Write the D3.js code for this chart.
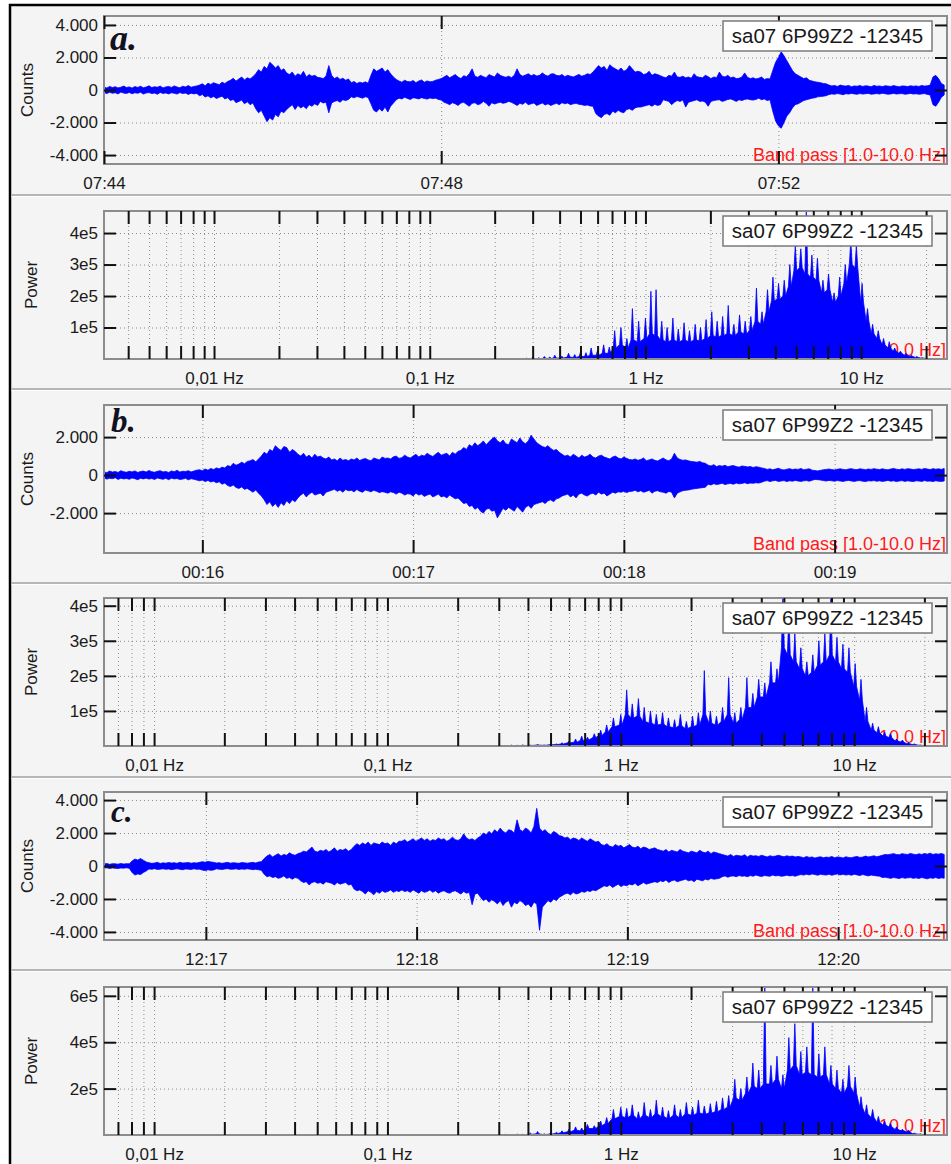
<!DOCTYPE html>
<html>
<head>
<meta charset="utf-8">
<script src="https://cdn.jsdelivr.net/npm/d3@7"></script>
<style>
  html, body { margin: 0; padding: 0; background: #fff; }
  svg { display: block; font-family: "Liberation Sans", Arial, sans-serif; }
</style>
</head>
<body>
<svg id="fig" width="951" height="1164"></svg>
<script>
// ------------------------------------------------------------------
// Data
// ------------------------------------------------------------------
const stationLabel = "sa07 6P99Z2 -12345";
const filterLabel = "Band pass [1.0-10.0 Hz]";
const panelLetters = ["a.", "b.", "c."];

// Seismogram envelopes (counts): upper / lower extreme per time step
const seisAStart = "07:44:00", seisAEnd = "07:54:00", seisAStep = 2;
const seisAUp = [
  180,120,220,150,200,130,170,240,150,190,120,210,160,230,140,180,260,150,200,170,240,130,190,220,160,250,180,140,230,190,270,170,220,250,
  300,380,260,420,340,450,380,330,480,400,520,
  600,720,550,680,800,620,750,680,820,
  1000,1250,1100,1450,1300,1700,1550,1350,1500,1200,1300,1050,
  950,1100,850,1000,900,1150,800,950,850,900,780,
  750,700,850,1500,900,700,800,650,720,600,680,
  450,520,400,480,430,500,420,
  900,1300,1150,1250,1350,1100,1250,1000,800,650,
  550,480,600,520,500,580,450,550,620,480,560,500,530,600,650,700,
  800,900,750,850,950,800,700,880,820,1000,1300,850,780,900,820,760,950,870,800,1050,900,830,780,850,760,900,1300,
  950,850,920,1000,880,950,860,900,1050,920,850,980,1000,900,870,950,820,900,850,800,880,960,850,900,1000,950,1100,
  1300,1500,1350,1450,1200,1550,1400,1300,1200,1350,1150,1250,1500,1300,1100,1150,
  1100,950,1000,1150,900,1000,950,880,
  800,750,900,850,1100,800,780,850,750,800,720,1000,820,780,750,900,820,700,800,760,1100,850,800,900,750,800,700,720,800,1050,780,700,750,680,720,800,650,700,680,
  1200,1700,2000,2350,2100,1800,1500,1200,1000,
  900,800,700,750,600,550,500,480,450,400,380,
  300,250,280,220,300,260,240,280,200,250,230,270,220,260,240,200,280,230,250,210,260,240,220,270,230,200,250,240,210,260,230,250,220,280,240,260,300,
  800,900,700,400,300];
const seisADown = [
  -160,-220,-140,-200,-170,-240,-130,-190,-210,-150,-230,-170,-200,-140,-250,-180,-160,-220,-190,-260,-150,-210,-180,-240,-170,-200,-250,-160,-220,-190,-270,-200,-240,-210,
  -350,-280,-430,-360,-480,-400,-520,-450,-380,-550,-480,
  -650,-580,-780,-700,-620,-850,-720,-900,-800,
  -1150,-1400,-1250,-1600,-1950,-1700,-1850,-1500,-1650,-1300,-1400,-1200,
  -1050,-900,-1200,-950,-1100,-1000,-1150,-900,-1000,-850,-950,
  -700,-800,-750,-1400,-800,-700,-650,-750,-600,-650,-580,
  -420,-480,-400,-450,-500,-420,-460,
  -850,-1250,-1350,-1150,-1300,-1050,-1350,-1000,-800,-600,
  -500,-550,-450,-520,-580,-480,-500,-550,-470,-520,-560,-490,-530,-500,-580,-620,
  -750,-820,-900,-780,-850,-950,-800,-760,-880,-1000,-820,-780,-900,-850,-700,-820,-1000,-780,-860,-800,-750,-820,-780,-700,-760,-850,-950,
  -820,-880,-750,-900,-850,-800,-950,-870,-800,-920,-850,-950,-880,-820,-900,-780,-850,-800,-900,-850,-820,-880,-900,-950,-920,-980,-1000,
  -1450,-1600,-1700,-1500,-1450,-1550,-1300,-1400,-1250,-1350,-1400,-1200,-1150,-1250,-1100,-1050,
  -1050,-1000,-950,-900,-1000,-880,-950,-900,
  -600,-650,-700,-900,-750,-650,-700,-620,-1050,-750,-700,-650,-600,-700,-680,-750,-1000,-700,-650,-620,-600,-700,-650,-580,-550,-620,-700,-600,-650,-580,-550,-600,-620,-580,-500,-600,-550,-650,-600,
  -1300,-1900,-2200,-2350,-2000,-1600,-1400,-1100,-900,
  -850,-750,-650,-600,-550,-500,-480,-420,-400,-380,-350,
  -280,-240,-260,-220,-250,-290,-230,-250,-210,-240,-260,-220,-250,-230,-210,-260,-240,-220,-250,-200,-230,-260,-240,-210,-250,-230,-220,-260,-240,-210,-250,-230,-260,-240,-220,-270,-300,
  -900,-1000,-750,-450,-300];

const seisBStart = "00:15:32", seisBEnd = "00:19:32", seisBStep = 0.8;
const seisBUp = [
  170,130,210,160,190,140,230,180,150,200,170,220,140,190,210,160,240,180,150,200,230,170,190,140,220,180,250,160,200,190,230,170,210,260,
  280,230,320,260,350,290,380,330,
  420,380,500,450,620,520,580,680,600,720,
  750,820,700,850,
  1000,1200,1100,1350,1250,1550,1400,1300,1500,1450,1200,1350,1250,1100,
  1000,1150,950,1050,900,1100,950,1000,900,850,950,
  800,850,750,900,780,820,760,850,800,900,770,830,880,800,760,900,850,800,950,880,900,850,960,1000,880,920,1050,950,900,1000,
  1100,950,1050,1000,1150,1050,980,1100,1200,1050,1100,1150,1000,1200,1100,1250,
  1300,1450,1350,1600,1500,1700,1550,1650,1800,1600,1750,1900,2000,1800,1700,1850,1650,1600,1900,1800,
  1700,1950,1750,1650,1800,2100,1900,1700,1600,1500,1450,1550,1400,1300,1350,1200,
  1100,1000,1050,950,1100,1000,900,1050,950,1000,1100,950,900,1000,1050,950,900,850,950,1000,900,850,950,880,820,
  800,850,780,820,900,760,800,850,780,740,820,900,800,760,850,1150,900,820,780,800,750,720,700,680,720,650,620,
  520,480,550,450,500,470,520,440,480,500,450,420,480,460,430,450,400,440,420,380,
  350,300,330,280,320,360,300,270,310,340,290,320,300,350,280,310,330,260,240,220,250,280,300,320,290,270,310,330,300,280,
  320,340,300,290,330,310,280,320,300,340,310,290,330,300,280,320,350,310,290,330,300,340,320,290,310,330,300,350,320,290,
  340,310,330,300,350];
const seisBDown = [
  -150,-210,-170,-190,-140,-230,-160,-200,-180,-220,-150,-190,-240,-170,-200,-160,-210,-180,-230,-150,-190,-220,-170,-240,-160,-200,-180,-230,-210,-170,-250,-190,-220,-260,
  -300,-260,-340,-280,-360,-320,-400,-350,
  -480,-420,-550,-600,-520,-650,-700,-620,-750,-700,
  -800,-900,-780,-950,
  -1100,-1300,-1550,-1400,-1650,-1500,-1700,-1450,-1600,-1350,-1500,-1300,-1400,-1200,
  -1050,-950,-1150,-1000,-900,-1050,-1000,-950,-1100,-900,-850,
  -800,-750,-850,-780,-900,-760,-820,-800,-880,-760,-850,-900,-790,-830,-880,-800,-850,-920,-870,-900,-950,-880,-920,-1000,-900,-950,-1050,-980,-1000,-1100,
  -950,-1050,-1000,-1120,-1050,-1000,-1150,-1080,-1000,-1150,-1100,-1200,-1050,-1150,-1250,-1200,
  -1350,-1500,-1450,-1650,-1600,-1800,-1700,-1900,-2000,-1800,-1750,-1900,-1850,-2250,-2000,-1750,-1850,-1700,-1800,-1900,
  -1650,-1800,-1950,-1700,-1600,-1750,-1550,-1500,-1450,-1400,-1500,-1350,-1300,-1400,-1250,-1200,
  -1100,-1050,-1000,-1150,-1050,-1200,-1000,-950,-1050,-1100,-1000,-950,-1050,-900,-1000,-950,-1100,-1000,-900,-950,-880,-900,-850,-920,-860,
  -850,-800,-880,-820,-900,-860,-800,-950,-850,-820,-880,-900,-950,-860,-900,-1200,-950,-880,-820,-800,-780,-750,-720,-700,-680,-660,-640,
  -480,-520,-450,-500,-470,-430,-500,-460,-440,-480,-420,-460,-440,-400,-450,-420,-430,-400,-420,-380,
  -320,-290,-340,-300,-280,-330,-310,-290,-340,-300,-320,-280,-310,-330,-300,-290,-320,-270,-230,-240,-260,-290,-310,-280,-300,-320,-290,-310,-330,-300,
  -280,-310,-330,-300,-290,-320,-340,-300,-310,-290,-320,-300,-330,-310,-280,-320,-300,-340,-310,-290,-330,-300,-320,-340,-300,-310,-330,-290,-320,-310,
  -340,-300,-320,-330,-310];

const seisCStart = "12:16:31", seisCEnd = "12:20:31", seisCStep = 0.8;
const seisCUp = [
  120,150,100,140,130,110,150,120,140,130,
  300,420,360,450,350,250,
  200,160,180,220,150,190,170,210,180,200,160,230,180,190,210,170,200,180,220,
  260,230,280,250,220,
  180,200,160,190,220,170,200,180,160,210,190,170,200,220,180,240,260,
  450,600,700,550,650,750,600,700,650,800,700,650,750,
  800,900,850,1000,1150,900,850,950,900,1000,850,950,1100,900,1000,950,1050,900,1000,
  1200,1350,1250,1400,1300,1450,1250,1400,1350,1300,1450,1350,1400,1250,1450,1350,1500,
  1500,1600,1450,1550,1650,1500,1600,1700,1550,1650,1500,1600,1550,1700,1600,1650,1500,1600,1750,1600,1550,1650,1950,1700,1600,1650,1550,1700,
  1800,2000,1900,2100,1950,2200,2050,2300,2100,2000,2200,2150,2000,2800,2200,2100,2300,2200,2000,2400,3500,2300,2100,2200,2000,1900,2100,2000,1850,
  1800,1700,1750,1600,1700,1650,1550,1700,1600,1500,1650,1550,1450,1500,
  1300,1250,1350,1200,1150,1300,1200,1250,1100,1200,1300,1150,1100,1200,1050,1150,1100,1000,1050,1100,1000,
  950,900,1000,850,950,900,850,1000,900,850,800,900,850,800,950,850,800,900,750,850,800,750,
  700,650,600,700,580,650,620,600,680,550,650,600,620,580,650,600,550,620,580,600,650,600,560,620,580,600,550,580,
  550,500,580,520,550,480,530,560,500,540,520,580,500,550,530,480,560,520,500,550,580,520,540,600,550,580,620,560,600,
  650,700,680,720,750,700,680,750,720,700,760,720,680,740,700,760,720,780,700,740,720,760,700];
const seisCDown = [
  -130,-110,-150,-120,-140,-150,-120,-130,-110,-140,
  -400,-550,-480,-520,-400,-300,
  -180,-200,-160,-210,-190,-170,-200,-180,-220,-190,-170,-200,-230,-180,-190,-210,-170,-200,-190,
  -250,-280,-230,-260,-240,
  -170,-190,-210,-180,-160,-200,-190,-170,-210,-180,-200,-170,-190,-220,-200,-230,-260,
  -500,-650,-600,-700,-650,-750,-700,-600,-750,-700,-800,-700,-750,
  -900,-1000,-950,-1150,-1000,-950,-1050,-1000,-1100,-950,-1000,-1050,-1150,-1000,-1100,-1050,-1000,-1150,-1100,
  -1400,-1500,-1450,-1550,-1700,-1500,-1600,-1750,-1550,-1650,-1500,-1600,-1550,-1450,-1600,-1500,-1550,
  -1450,-1550,-1500,-1600,-1450,-1550,-1650,-1500,-1600,-1550,-1450,-1600,-1500,-1650,-1550,-1500,-1600,-1650,-1550,-1500,-1600,-1700,-1550,-1650,-1600,-2350,-1700,-1650,
  -1900,-2100,-2000,-2200,-2050,-2150,-2300,-2100,-2400,-2200,-2100,-2500,-2200,-2300,-2100,-2200,-2400,-2300,-2500,-2200,-2300,-3900,-2500,-2300,-2100,-2200,-2000,-2100,-1900,
  -1800,-1700,-1650,-1750,-1600,-1700,-1650,-1550,-1600,-1500,-1550,-1450,-1500,-1400,
  -1300,-1200,-1250,-1150,-1300,-1200,-1100,-1250,-1150,-1200,-1100,-1150,-1050,-1200,-1100,-1000,-1100,-1050,-1000,-950,-1000,
  -900,-950,-850,-1000,-900,-850,-950,-900,-850,-800,-900,-850,-950,-800,-850,-900,-800,-850,-750,-800,-780,-750,
  -650,-600,-680,-620,-600,-650,-580,-620,-600,-650,-580,-620,-550,-600,-640,-580,-600,-620,-550,-600,-580,-620,-600,-560,-600,-580,-620,-560,
  -520,-550,-500,-540,-480,-520,-560,-500,-530,-550,-500,-560,-520,-480,-540,-500,-550,-520,-560,-500,-540,-580,-520,-560,-600,-550,-580,-600,-620,
  -700,-680,-720,-750,-700,-730,-760,-700,-740,-720,-700,-750,-720,-760,-700,-740,-780,-720,-750,-700,-760,-720,-740];

// Power spectra: frequency grid (Hz), spike tops and solid body level
const specFreq = [0.28,0.30,0.32,0.34,0.36,0.38,0.41,0.44,0.47,0.50,0.53,0.56,0.60,0.64,0.68,
  0.72,0.77,0.82,0.87,0.93,1.00,1.06,1.12,1.19,1.26,1.34,1.42,1.51,1.60,1.70,1.80,1.91,2.03,
  2.15,2.28,2.42,2.57,2.73,2.90,3.08,3.27,3.47,3.68,3.90,4.14,4.40,4.67,4.95,5.25,5.57,5.91,
  6.27,6.65,7.06,7.49,7.95,8.44,8.95,9.50,10.1,10.7,11.3,12.0,12.7,13.5,14.3,15.2,16.1,17.1,
  18.1,19.2,20.4];

const specAPeak = [3000,6000,4000,8000,6000,12000,9000,18000,14000,22000,20000,35000,28000,45000,38000,
  90000,100000,65000,160000,120000,130000,215000,220000,120000,100000,130000,95000,115000,90000,110000,100000,125000,150000,
  120000,135000,170000,110000,140000,120000,135000,225000,150000,220000,260000,240000,250000,300000,360000,350000,470000,330000,
  320000,250000,270000,210000,260000,300000,375000,360000,240000,160000,110000,90000,65000,55000,35000,25000,18000,12000,
  8000,4000,2000];
const specABody = [0,1000,1000,2000,2000,3000, 3000,6000,5000,8000,8000, 12000,12000,18000,18000,35000,
  45000,35000,60000,55000, 65000,80000,75000,60000,55000, 60000,55000,60000,55000,60000,58000,
  65000,75000,70000,75000,80000, 75000,85000,80000,90000, 120000,110000,150000,185000,
  190000,200000,230000,280000, 290000,270000,260000, 250000,210000,220000,180000,
  200000,240000,300000,290000, 180000,120000,80000,65000, 45000,35000,25000, 18000,12000,8000, 5000,3000,1000];

const specBPeak = [1000,2000,1500,2500,2000,3000,2500,4000,3000,5000,6000,9000,14000,20000,28000,
  25000,35000,45000,60000,80000,90000,160000,120000,135000,110000,100000,90000,95000,80000,75000,90000,70000,85000,
  95000,215000,100000,85000,110000,195000,95000,110000,195000,150000,190000,180000,240000,220000,420000,380000,320000,280000,
  240000,260000,300000,320000,420000,310000,290000,280000,235000,190000,110000,65000,55000,40000,35000,20000,17000,10000,
  6000,3000,1000];
const specBBody = [0,500,500,1000,1000,1500, 1500,2500,2000,3500,4000, 6000,9000,11000,16000,17000,
  24000,30000,40000,55000, 60000,90000,80000,85000,70000, 65000,60000,62000,55000,52000,58000,
  50000,55000,60000,90000,65000, 60000,70000,90000,65000, 75000,110000,110000,140000,
  140000,180000,180000,280000, 260000,240000,220000, 200000,210000,230000,240000,
  260000,240000,220000,210000, 170000,130000,70000,45000, 38000,28000,24000, 14000,11000,6000, 4000,2000,500];

const specCPeak = [500,2000,3000,2000,4000,3000,8000,15000,5000,8000,12000,18000,25000,35000,30000,
  45000,40000,60000,75000,110000,120000,115000,130000,100000,140000,110000,150000,120000,105000,130000,110000,140000,120000,
  150000,125000,135000,145000,160000,170000,240000,200000,250000,310000,280000,640000,300000,340000,260000,420000,480000,360000,
  380000,640000,350000,380000,300000,280000,240000,300000,250000,165000,130000,110000,80000,60000,50000,35000,25000,20000,
  8000,5000,2000];
const specCBody = [0,500,1000,500,1000,1000, 3000,5000,2000,4000,6000, 10000,14000,20000,18000,28000,
  28000,40000,50000,70000, 80000,75000,85000,70000,85000, 75000,90000,80000,72000,85000,75000,
  90000,85000,95000,90000,95000, 100000,110000,120000,160000, 150000,180000,210000,200000,
  220000,220000,240000,200000, 280000,300000,260000, 270000,260000,250000,260000,
  220000,200000,180000,210000, 180000,120000,90000,75000, 55000,42000,35000, 24000,18000,13000, 5000,3000,1000];

// Axis ticks and their labels
const countTicksWide = [-4000, -2000, 0, 2000, 4000];
const countTicksNarrow = [-2000, 0, 2000];
const powerTicksAB = [1e5, 2e5, 3e5, 4e5];
const powerTicksC = [2e5, 4e5, 6e5];
const freqLabelValues = [0.01, 0.1, 1, 10];
const freqLabelText = ["0,01 Hz", "0,1 Hz", "1 Hz", "10 Hz"];

// ------------------------------------------------------------------
// Layout and drawing
// ------------------------------------------------------------------
const W = 951, H = 1164;
const plotLeft = 104, plotRight = 947, plotH = 148;
const blue = "#0000ff";
const svg = d3.select("#fig");
const parseT = d3.utcParse("%H:%M:%S");
const countFmt = d3.formatLocale({decimal: ",", thousands: ".", grouping: [3], currency: ["", ""], minus: "-"}).format(",d");
const powerFmt = v => `${Math.round(v / 1e5)}e5`;

svg.append("rect").attr("width", W).attr("height", H).attr("fill", "#fff");
svg.append("rect").attr("x", 10).attr("y", 5).attr("width", W + 40).attr("height", H + 40)
  .attr("fill", "#f4f4f4").attr("stroke", "#000").attr("stroke-width", 2.5);

[195, 389, 583, 777, 970].forEach(y => {
  svg.append("line").attr("x1", 11.5).attr("x2", W).attr("y1", y).attr("y2", y)
    .attr("stroke", "#a2a2a2").attr("stroke-width", 1.6);
  svg.append("line").attr("x1", 11.5).attr("x2", W).attr("y1", y + 1.5).attr("y2", y + 1.5)
    .attr("stroke", "#ffffff").attr("stroke-width", 1);
});

let clipId = 0;

function styleText(sel, size) {
  sel.attr("font-family", "'Liberation Sans', Arial, sans-serif").attr("font-size", size).attr("fill", "#1a1a1a");
}

// dotted grid behind the data
function drawGrid(g, x, y, top, xVals, yVals) {
  const bottom = top + plotH;
  const gg = g.append("g");
  gg.append("g").attr("transform", `translate(0,${bottom})`)
    .call(d3.axisBottom(x).tickValues(xVals).tickSize(-plotH).tickFormat(""));
  gg.append("g").attr("transform", `translate(${plotLeft},0)`)
    .call(d3.axisLeft(y).tickValues(yVals).tickSize(-(plotRight - plotLeft)).tickFormat(""));
  gg.selectAll(".domain").remove();
  gg.selectAll("line").attr("stroke", "#8a8a8a").attr("stroke-width", 1).attr("stroke-dasharray", "1,3");
}

// frame, tick marks and labels on top of the data
function drawFrame(g, x, y, top, xTickVals, xLabelVals, xLabelFmt, yVals, yFmt, yTitle, titleX) {
  const bottom = top + plotH;
  g.append("rect").attr("x", plotLeft).attr("y", top).attr("width", plotRight - plotLeft).attr("height", plotH)
    .attr("fill", "none").attr("stroke", "#8c8c8c").attr("stroke-width", 2);

  const tickStyle = a => {
    a.select(".domain").remove();
    a.selectAll("line").attr("stroke", "#111").attr("stroke-width", 2);
  };
  g.append("g").attr("transform", `translate(0,${bottom})`)
    .call(d3.axisBottom(x).tickValues(xTickVals).tickSizeInner(-13).tickSizeOuter(0).tickFormat(""))
    .call(tickStyle);
  g.append("g").attr("transform", `translate(0,${top})`)
    .call(d3.axisTop(x).tickValues(xTickVals).tickSizeInner(-13).tickSizeOuter(0).tickFormat(""))
    .call(tickStyle);
  const lab = g.append("g").attr("transform", `translate(0,${bottom})`)
    .call(d3.axisBottom(x).tickValues(xLabelVals).tickSize(0).tickPadding(13).tickFormat(xLabelFmt));
  lab.select(".domain").remove();
  lab.selectAll("text").call(styleText, 17);

  const yl = g.append("g").attr("transform", `translate(${plotLeft},0)`)
    .call(d3.axisLeft(y).tickValues(yVals).tickSizeInner(-12).tickSizeOuter(0).tickPadding(6).tickFormat(yFmt))
    .call(tickStyle);
  yl.selectAll("text").call(styleText, 17);
  g.append("g").attr("transform", `translate(${plotRight},0)`)
    .call(d3.axisRight(y).tickValues(yVals).tickSizeInner(-12).tickSizeOuter(0).tickFormat(""))
    .call(tickStyle);

  g.append("text").attr("transform", `translate(${titleX},${top + plotH / 2}) rotate(-90)`)
    .attr("text-anchor", "middle").text(yTitle).call(styleText, 17);

  // station legend box
  g.append("rect").attr("x", 723).attr("y", top + 5).attr("width", 209).attr("height", 30)
    .attr("fill", "#fff").attr("stroke", "#7a7a7a").attr("stroke-width", 1.5);
  g.append("text").attr("x", 827.5).attr("y", top + 27).attr("text-anchor", "middle")
    .text(stationLabel).call(styleText, 20.5);
}

function filterText(g, top) {
  g.append("text").attr("x", 946).attr("y", top + plotH - 3).attr("text-anchor", "end")
    .attr("font-family", "'Liberation Sans', Arial, sans-serif").attr("font-size", 18)
    .attr("fill", "#ff1a1a").text(filterLabel);
}

function clipFor(g, top) {
  const id = "plotclip" + (clipId++);
  g.append("clipPath").attr("id", id).append("rect")
    .attr("x", plotLeft).attr("y", top).attr("width", plotRight - plotLeft).attr("height", plotH);
  return `url(#${id})`;
}

function drawSeismogram(o) {
  const g = svg.append("g");
  const top = o.top, bottom = top + plotH;
  const t0 = parseT(o.start), t1 = parseT(o.end);
  const x = d3.scaleUtc().domain([t0, t1]).range([plotLeft, plotRight]);
  const y = d3.scaleLinear().domain(o.yDomain).range([bottom, top]);
  const timeTicks = x.ticks(o.every);

  drawGrid(g, x, y, top, timeTicks, o.yTicks);
  filterText(g, top);

  const at = i => new Date(t0.getTime() + i * o.step * 1000);
  const area = d3.area()
    .x((d, i) => x(at(i)))
    .y0((d, i) => y(o.down[i]))
    .y1(d => y(d));
  g.append("g").attr("clip-path", clipFor(g, top))
    .append("path").datum(o.up).attr("d", area)
    .attr("fill", blue).attr("stroke", blue).attr("stroke-width", 0.8);

  drawFrame(g, x, y, top, timeTicks, timeTicks, d3.utcFormat("%H:%M"), o.yTicks, countFmt, "Counts", 33);

  g.append("text").attr("x", o.letterX).attr("y", o.letterY)
    .attr("font-family", "'Liberation Serif', 'Times New Roman', serif")
    .attr("font-weight", "bold").attr("font-style", "italic")
    .attr("font-size", o.letterSize).attr("fill", "#111122").text(o.letter);
}

function drawSpectrum(o) {
  const g = svg.append("g");
  const top = o.top, bottom = top + plotH;
  const x = d3.scaleLog().domain(o.fDomain).range([plotLeft, plotRight]);
  const y = d3.scaleLinear().domain([0, o.pMax]).range([bottom, top]);
  const logTicks = x.ticks();

  drawGrid(g, x, y, top, logTicks, o.yTicks);
  filterText(g, top);

  // solid body with a narrow spike rising from it at every frequency bin
  const half = 1.4;
  const outline = [[x(specFreq[0]) - half, y(0)]];
  specFreq.forEach((f, i) => {
    const xf = x(f);
    outline.push([xf - half, y(o.body[i])]);
    outline.push([xf, y(o.peak[i])]);
    outline.push([xf + half, y(o.body[i])]);
  });
  outline.push([x(specFreq[specFreq.length - 1]) + half, y(0)]);

  g.append("g").attr("clip-path", clipFor(g, top))
    .append("path").attr("d", d3.line()(outline) + "Z")
    .attr("fill", blue).attr("stroke", blue).attr("stroke-width", 0.8).attr("stroke-linejoin", "bevel");

  const fmt = v => {
    const k = freqLabelValues.indexOf(v);
    return k >= 0 ? freqLabelText[k] : "";
  };
  drawFrame(g, x, y, top, logTicks, freqLabelValues, fmt, o.yTicks, powerFmt, "Power", 37);
}

// panel a
drawSeismogram({top: 16, start: seisAStart, end: seisAEnd, step: seisAStep, up: seisAUp, down: seisADown,
  yDomain: [-4550, 4550], yTicks: countTicksWide, every: d3.utcMinute.every(4),
  letter: panelLetters[0], letterX: 110, letterY: 50, letterSize: 36});
drawSpectrum({top: 211, fDomain: [0.00309, 25], pMax: 4.70e5, yTicks: powerTicksAB, peak: specAPeak, body: specABody});

// panel b
drawSeismogram({top: 405, start: seisBStart, end: seisBEnd, step: seisBStep, up: seisBUp, down: seisBDown,
  yDomain: [-4100, 3690], yTicks: countTicksNarrow, every: d3.utcMinute.every(1),
  letter: panelLetters[1], letterX: 111, letterY: 432, letterSize: 33});
drawSpectrum({top: 598, fDomain: [0.0061, 25], pMax: 4.22e5, yTicks: powerTicksAB, peak: specBPeak, body: specBBody});

// panel c
drawSeismogram({top: 792, start: seisCStart, end: seisCEnd, step: seisCStep, up: seisCUp, down: seisCDown,
  yDomain: [-4490, 4490], yTicks: countTicksWide, every: d3.utcMinute.every(1),
  letter: panelLetters[2], letterX: 111, letterY: 822, letterSize: 31});
drawSpectrum({top: 987, fDomain: [0.0061, 25], pMax: 6.38e5, yTicks: powerTicksC, peak: specCPeak, body: specCBody});
</script>
</body>
</html>
